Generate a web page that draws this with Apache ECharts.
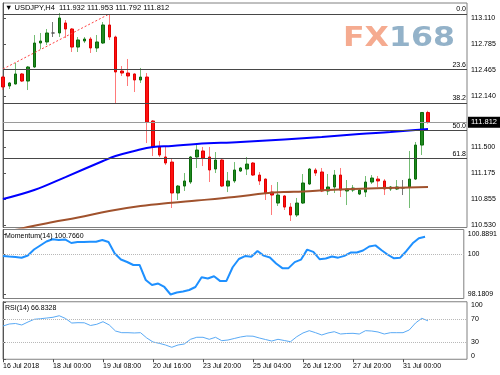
<!DOCTYPE html>
<html><head><meta charset="utf-8">
<script src="https://cdn.jsdelivr.net/npm/echarts@6/dist/echarts.min.js"></script>
<style>html,body{margin:0;padding:0;background:#fff}#c{width:500px;height:375px}</style>
</head><body><div id="c"></div>
<script>
const symbolName = 'USDJPY,H4';
const timeLabels = ['16 Jul 2018','18 Jul 00:00','19 Jul 08:00','20 Jul 16:00','23 Jul 20:00','25 Jul 04:00','26 Jul 12:00','27 Jul 20:00','31 Jul 00:00'];
const timeLabelBars = [0,8,16,24,32,40,48,56,64];
const priceTicks = [110.530,110.855,111.175,111.500,112.140,112.465,112.785,113.110];
// [open, close, low, high]
const candles = [
[112.374,112.250,112.212,112.390],[112.262,112.300,112.225,112.310],[112.287,112.412,112.280,112.549],[112.412,112.324,112.312,112.424],
[112.324,112.499,112.212,112.511],[112.499,112.798,112.487,112.898],[112.798,112.823,112.723,112.923],[112.811,112.923,112.773,112.973],
[112.923,112.923,112.873,113.060],[112.923,113.110,112.873,113.172],[113.048,112.973,112.861,113.085],[112.973,112.748,112.686,112.985],
[112.748,112.836,112.686,112.873],[112.823,112.848,112.798,112.873],[112.848,112.736,112.674,112.873],[112.736,112.811,112.686,112.898],
[112.798,113.023,112.786,113.060],[113.023,112.873,112.836,113.160],[112.873,112.437,112.038,112.890],[112.449,112.424,112.387,112.511],
[112.424,112.387,112.262,112.599],[112.412,112.337,112.187,112.420],[112.337,112.374,112.300,112.487],[112.374,111.813,111.551,112.424],
[111.826,111.502,111.389,111.838],[111.502,111.402,111.377,111.576],[111.377,111.302,111.277,111.502],[111.314,110.928,110.741,111.364],
[110.928,111.015,110.841,111.028],[111.015,111.078,110.953,111.177],[111.065,111.377,111.040,111.389],[111.377,111.464,111.240,111.526],
[111.452,111.364,111.264,111.502],[111.377,111.215,111.065,111.502],[111.227,111.339,111.177,111.439],[111.339,111.015,111.003,111.364],
[111.015,111.078,110.940,111.190],[111.078,111.215,111.053,111.314],[111.202,111.240,111.190,111.252],[111.227,111.289,111.152,111.377],
[111.302,111.152,111.140,111.314],[111.152,111.078,111.028,111.190],[111.102,110.928,110.841,111.110],[110.940,110.903,110.654,111.028],
[110.803,110.903,110.766,111.065],[110.891,110.753,110.716,110.900],[110.753,110.654,110.579,110.803],[110.654,110.803,110.629,110.866],
[110.803,111.053,110.791,111.165],[111.040,111.227,111.028,111.240],[111.215,111.177,111.140,111.240],[111.190,110.953,110.940,111.240],
[110.953,111.003,110.903,111.165],[111.003,111.152,110.928,111.215],[111.152,110.965,110.878,111.240],[110.953,110.978,110.778,111.090],
[110.965,110.990,110.940,111.028],[110.915,110.965,110.903,110.990],[110.940,111.065,110.878,111.140],[111.065,111.115,111.040,111.152],
[111.102,111.078,111.003,111.140],[111.078,110.978,110.903,111.102],[110.978,111.003,110.953,111.015],[110.978,111.003,110.965,111.090],
[110.990,110.990,110.903,111.090],[111.003,111.102,110.741,111.452],[111.102,111.526,111.090,111.564],[111.526,111.932,111.402,111.938],
[111.932,111.812,111.792,111.953]
];
const maBlue = [[0,110.853],[5,110.965],[10,111.127],[16,111.327],[18,111.389],[21,111.452],[24,111.502],[27,111.514],[31,111.539],[38,111.564],[45,111.595],[51,111.626],[57,111.664],[62,111.689],[66,111.713],[68,111.726]];
const maBrown = [[0,110.430],[4,110.505],[8,110.566],[12,110.622],[17,110.704],[22,110.766],[27,110.807],[31,110.834],[37,110.878],[42,110.924],[45,110.940],[48,110.947],[52,110.965],[56,110.978],[61,110.990],[68,111.003]];
const fibNames = ['0.0','23.6','38.2','50.0','61.8'];
const fibPrices = [113.160,112.474,112.050,111.707,111.363];
const trendLine = [[0,112.474],[17,113.160]];
const lastPrice = 111.812;
const momentum = [99.904,99.880,99.860,99.828,99.927,100.195,100.374,100.553,100.652,100.621,100.643,100.486,100.531,100.531,100.545,100.545,
100.621,100.531,100.016,99.748,99.636,99.502,99.502,98.830,98.606,98.673,98.517,98.181,98.271,98.315,98.382,98.517,
98.950,98.900,99.000,98.780,98.790,99.400,99.770,99.900,99.870,100.130,99.920,99.840,99.570,99.360,99.360,99.630,
99.740,100.190,100.090,99.760,99.790,99.880,99.830,99.910,100.060,100.060,100.150,100.330,100.380,100.160,99.960,99.800,
99.830,100.130,100.470,100.700,100.766];
const momentumLast = '100.7660';
const momentumTicks = [98.1809,100,100.8891];
const rsi = [57.8,61.3,62.2,59.6,64.8,69.5,70.5,71.7,73.0,75.7,70.9,63.0,63.6,63.4,58.7,60.8,
65.3,59.6,49.1,46.2,46.2,45.7,46.2,37.0,30.0,27.7,24.8,20.8,24.8,26.5,34.7,38.2,
38.2,34.7,38.2,32.3,33.5,36.1,38.7,40.4,40.1,37.0,34.3,31.7,34.7,32.6,30.5,39.2,
45.7,49.7,46.2,42.2,45.7,47.9,43.9,44.8,45.1,43.9,49.7,49.1,47.4,43.9,46.2,46.2,
46.2,50.9,63.0,71.2,66.8];
const rsiLast = '66.8328';
const rsiTicks = [0,30,70,100];

const FONT = 'Liberation Sans';
const X_MAX = 74.24;
const last = candles[candles.length - 1];

const wickRows = candles.map((c, i) => [i, c[0], c[1], c[2], c[3]]);
const bodyRows = candles.map((c, i) => [i, c[0], c[1], Math.min(c[0], c[1]), Math.max(c[0], c[1])]);

function xAx(gi, show) {
  return {type: 'value', gridIndex: gi, min: 0, max: X_MAX,
    axisLine: {show: false}, splitLine: {show: false},
    axisTick: {show: show, customValues: timeLabelBars, length: 3, lineStyle: {color: '#444'}},
    axisLabel: {show: show, customValues: timeLabelBars, formatter: v => timeLabels[timeLabelBars.indexOf(v)],
      align: 'left', fontSize: 7, fontFamily: FONT, color: '#000', margin: 3}};
}
function yAx(gi, min, max, ticks, fmt, extra) {
  return {type: 'value', gridIndex: gi, position: 'right', min, max,
    splitLine: {show: false},
    axisLine: {show: true, lineStyle: {color: '#555'}},
    axisTick: {show: true, customValues: ticks, length: 3, lineStyle: {color: '#555'}},
    axisLabel: Object.assign({customValues: ticks, formatter: fmt, fontSize: 7, fontFamily: FONT, color: '#000', margin: 4}, extra || {})};
}
const gridStyle = {show: true, borderColor: '#808080', borderWidth: 1, left: 3, right: 33};
const dotted = {type: 'dotted', color: '#b8b8b8', width: 1};

const chart = echarts.init(document.getElementById('c'));
chart.setOption({
  animation: false,
  backgroundColor: '#fff',
  title: [
    {text: '\u25BC ' + symbolName + '  ' + last[0].toFixed(3) + ' ' + last[3].toFixed(3) + ' ' + last[2].toFixed(3) + ' ' + last[1].toFixed(3),
     left: 5, top: 4, padding: 0, textStyle: {fontSize: 7.5, fontWeight: 'normal', color: '#000', fontFamily: FONT}},
    {text: 'Momentum(14) ' + momentumLast, left: 5, top: 233, padding: 0, textStyle: {fontSize: 7, fontWeight: 'normal', color: '#000', fontFamily: FONT}},
    {text: 'RSI(14) ' + rsiLast, left: 5, top: 305, padding: 0, textStyle: {fontSize: 7, fontWeight: 'normal', color: '#000', fontFamily: FONT}}
  ],
  graphic: [{type: 'text', left: 343, top: 25, z: 0, scaleX: 1.17,
    style: {text: '{a|FX}{b|168}', font: 'bold 27px "DejaVu Sans"',
      rich: {a: {fill: '#f5ab90', font: 'bold 27px "DejaVu Sans"'}, b: {fill: '#93b2c9', font: 'bold 27px "DejaVu Sans"'}}}}],
  grid: [
    Object.assign({top: 3, height: 224.5}, gridStyle),
    Object.assign({top: 229.5, height: 69}, gridStyle),
    Object.assign({top: 301.75, height: 57.5}, gridStyle)
  ],
  xAxis: [xAx(0, false), xAx(1, false), xAx(2, true)],
  yAxis: [
    yAx(0, 110.498, 113.297, priceTicks, v => v.toFixed(3)),
    yAx(1, 98.002, 101.090, momentumTicks, v => v === 100 ? '100' : v.toFixed(4)),
    yAx(2, 0, 100, rsiTicks, v => String(v), {verticalAlignMaxLabel: 'top', verticalAlignMinLabel: 'bottom'})
  ],
  series: [
    {type: 'candlestick', xAxisIndex: 0, yAxisIndex: 0, data: wickRows, encode: {x: 0, y: [1, 2, 3, 4]},
     barWidth: 0, itemStyle: {color: '#74bd74', color0: '#ff7a7a', borderColor: '#74bd74', borderColor0: '#ff7a7a', borderColorDoji: '#777', borderWidth: 1}},
    {type: 'candlestick', xAxisIndex: 0, yAxisIndex: 0, data: bodyRows, encode: {x: 0, y: [1, 2, 3, 4]},
     barWidth: 3, itemStyle: {color: '#1f8a1f', color0: '#ff1010', borderColor: '#0b6b0b', borderColor0: '#e00000', borderColorDoji: '#555', borderWidth: 1},
     markLine: {silent: true, symbol: ['none', 'none'], animation: false,
       lineStyle: {color: '#474747', type: 'solid', width: 1},
       label: {position: 'insideEndTop', formatter: '{b}', fontSize: 7, fontFamily: FONT, color: '#000', distance: 1},
       data: fibNames.map((n, k) => ({name: n, yAxis: fibPrices[k]})).concat([
         {name: 'price', yAxis: lastPrice, lineStyle: {color: '#9a9a9a'},
          label: {position: 'end', formatter: lastPrice.toFixed(3), backgroundColor: '#000', color: '#fff', padding: [2, 3, 1, 3], distance: 1, fontSize: 7.5}}])}},
    {type: 'line', xAxisIndex: 0, yAxisIndex: 0, data: maBlue, smooth: 0.4, symbol: 'none', lineStyle: {color: '#0000ff', width: 2}},
    {type: 'line', xAxisIndex: 0, yAxisIndex: 0, data: maBrown, smooth: 0.4, symbol: 'none', lineStyle: {color: '#a0522d', width: 2}},
    {type: 'line', xAxisIndex: 0, yAxisIndex: 0, data: trendLine, symbol: 'none', lineStyle: {color: '#ff4040', width: 1, type: [2, 2]}},
    {type: 'line', xAxisIndex: 1, yAxisIndex: 1, data: momentum.map((v, i) => [i, v]), symbol: 'none', lineStyle: {color: '#1e90ff', width: 2},
     markLine: {silent: true, symbol: ['none', 'none'], lineStyle: dotted, label: {show: false}, data: [{yAxis: 100}]}},
    {type: 'line', xAxisIndex: 2, yAxisIndex: 2, data: rsi.map((v, i) => [i, v]), symbol: 'none', lineStyle: {color: '#5aaaf5', width: 1},
     markLine: {silent: true, symbol: ['none', 'none'], lineStyle: dotted, label: {show: false}, data: [{yAxis: 30}, {yAxis: 70}]}}
  ]
});
</script></body></html>
